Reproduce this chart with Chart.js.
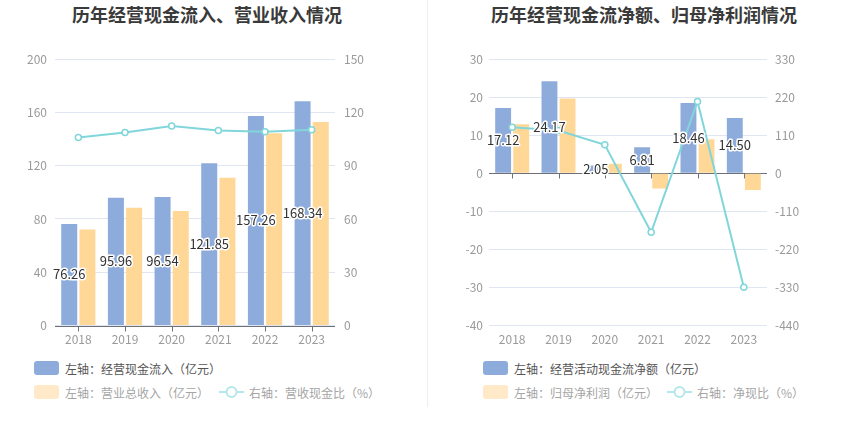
<!DOCTYPE html>
<html>
<head>
<meta charset="utf-8">
<script src="https://cdn.jsdelivr.net/npm/chart.js@4.4.0/dist/chart.umd.min.js"></script>
<style>
  body { margin: 0; background: #fff; font-family: "Noto Sans CJK SC", sans-serif; }
  .title { position: absolute; top: 4px; width: 420px; text-align: center; font-size: 18px; font-weight: bold; color: #3a3a3a; line-height: 20px; }
  .wrap { position: absolute; top: 0; width: 425px; height: 356px; }
  .divider { position: absolute; left: 427px; top: 0; width: 1px; height: 407px; background: #eee; }
  .item { position: absolute; white-space: nowrap; display: flex; align-items: center; font-size: 12px; height: 14px; }
  .sw { width: 25px; height: 14px; border-radius: 3px; margin-right: 6px; }
  .dark { color: #555; }
  .light { color: #a5a5a5; }
</style>
</head>
<body>
<div class="title" style="left:-3px">历年经营现金流入、营业收入情况</div>
<div class="title" style="left:434px">历年经营现金流净额、归母净利润情况</div>
<div class="wrap" style="left:0"><canvas id="leftChart"></canvas></div>
<div class="wrap" style="left:425px"><canvas id="rightChart"></canvas></div>
<div class="divider"></div>

<div class="item dark" style="left:34px;top:361px"><span class="sw" style="background:#8eacdb"></span>左轴：经营现金流入（亿元）</div>
<div class="item light" style="left:34px;top:385px"><span class="sw" style="background:#ffe9c8"></span>左轴：营业总收入（亿元）</div>
<div class="item light" style="left:219px;top:385px"><svg width="25" height="14" style="margin-right:5px"><line x1="0" y1="7" x2="25" y2="7" stroke="#b3e7e9" stroke-width="2"/><circle cx="12.5" cy="7" r="5" fill="#fff" stroke="#b3e7e9" stroke-width="2"/></svg>右轴：营收现金比（%）</div>

<div class="item dark" style="left:483px;top:361px"><span class="sw" style="background:#8eacdb"></span>左轴：经营活动现金流净额（亿元）</div>
<div class="item light" style="left:483px;top:385px"><span class="sw" style="background:#ffe9c8"></span>左轴：归母净利润（亿元）</div>
<div class="item light" style="left:667px;top:385px"><svg width="25" height="14" style="margin-right:5px"><line x1="0" y1="7" x2="25" y2="7" stroke="#b3e7e9" stroke-width="2"/><circle cx="12.5" cy="7" r="5" fill="#fff" stroke="#b3e7e9" stroke-width="2"/></svg>右轴：净现比（%）</div>

<script>
const years = ['2018', '2019', '2020', '2021', '2022', '2023'];

// left chart
const cashInflow = [76.26, 95.96, 96.54, 121.85, 157.26, 168.34];
const revenue = [72.0, 88.4, 86.0, 111.0, 144.3, 152.8];
const cashRevenueRatio = [105.9, 108.6, 112.3, 109.8, 109.0, 110.2];
const leftAxis1 = [0, 200, 40];
const rightAxis1 = [0, 150, 30];

// right chart
const netCashFlow = [17.12, 24.17, 2.05, 6.81, 18.46, 14.50];
const netProfit = [12.9, 19.6, 2.5, -4.0, 8.9, -4.4];
const netCashRatio = [132.7, 123.3, 82.0, -170.3, 207.4, -329.5];
const leftAxis2 = [-40, 30, 10];
const rightAxis2 = [-440, 330, 110];

const BLUE = '#8eacdb';
const ORANGE = '#ffd898';
const CYAN = '#80d6da';

Chart.defaults.font.family = '"Noto Sans CJK SC", sans-serif';
Chart.defaults.font.size = 12;
Chart.defaults.color = '#9a9a9a';

// x axis line drawn at value 0 with small ticks under each category
const zeroAxis = {
  id: 'zeroAxis',
  beforeDatasetsDraw(chart) {
    const {ctx, chartArea, scales} = chart;
    const y0 = Math.round(scales.y.getPixelForValue(0)) + 0.5;
    ctx.save();
    ctx.strokeStyle = '#6e7079';
    ctx.lineWidth = 1;
    ctx.beginPath();
    ctx.moveTo(chartArea.left, y0);
    ctx.lineTo(chartArea.right, y0);
    years.forEach((yr, i) => {
      const px = Math.round(scales.x.getPixelForTick(i)) + 0.5;
      ctx.moveTo(px, y0);
      ctx.lineTo(px, y0 + 5);
    });
    ctx.stroke();
    ctx.restore();
  }
};

// value labels in the middle of the first bar series
const barLabels = {
  id: 'barLabels',
  afterDatasetsDraw(chart) {
    const ctx = chart.ctx;
    const meta = chart.getDatasetMeta(0);
    const values = chart.data.datasets[0].data;
    ctx.save();
    ctx.font = '13px "Noto Sans CJK SC", sans-serif';
    ctx.textAlign = 'center';
    ctx.textBaseline = 'middle';
    ctx.lineJoin = 'round';
    ctx.lineWidth = 3;
    ctx.strokeStyle = '#fff';
    ctx.fillStyle = '#333';
    meta.data.forEach((bar, i) => {
      const txt = values[i].toFixed(2);
      const y = (bar.y + bar.base) / 2;
      ctx.strokeText(txt, bar.x, y);
      ctx.fillText(txt, bar.x, y);
    });
    ctx.restore();
  }
};

function makeChart(id, barA, barB, ratio, lAxis, rAxis, widths) {
  const ctx = document.getElementById(id).getContext('2d');
  return new Chart(ctx, {
    type: 'bar',
    data: {
      labels: years,
      datasets: [
        {type: 'bar', data: barA, backgroundColor: BLUE, yAxisID: 'y', order: 2,
          categoryPercentage: 0.78, barPercentage: 0.88},
        {type: 'bar', data: barB, backgroundColor: ORANGE, yAxisID: 'y', order: 2,
          categoryPercentage: 0.78, barPercentage: 0.88},
        {type: 'line', data: ratio, yAxisID: 'y1', order: 0,
          borderColor: CYAN, borderWidth: 2, tension: 0,
          pointRadius: 3, pointBackgroundColor: '#fff', pointBorderColor: CYAN, pointBorderWidth: 1.5}
      ]
    },
    options: {
      responsive: true,
      maintainAspectRatio: false,
      animation: false,
      layout: {padding: {top: 59, bottom: 2, left: 0, right: 0}},
      plugins: {legend: {display: false}, tooltip: {enabled: false}},
      scales: {
        x: {
          grid: {display: false, drawTicks: false},
          border: {display: false},
          ticks: {padding: 7, color: '#9a9a9a'}
        },
        y: {
          position: 'left',
          min: lAxis[0], max: lAxis[1],
          ticks: {stepSize: lAxis[2], padding: widths[2]},
          grid: {color: '#e0e6f1', drawTicks: false},
          border: {display: false},
          afterFit(scale) { scale.width = widths[0]; }
        },
        y1: {
          position: 'right',
          min: rAxis[0], max: rAxis[1],
          ticks: {stepSize: rAxis[2], padding: widths[3]},
          grid: {drawOnChartArea: false, drawTicks: false},
          border: {display: false},
          afterFit(scale) { scale.width = widths[1]; }
        }
      }
    },
    plugins: [zeroAxis, barLabels]
  });
}

makeChart('leftChart', cashInflow, revenue, cashRevenueRatio, leftAxis1, rightAxis1, [55, 90, 8, 9]);
makeChart('rightChart', netCashFlow, netProfit, netCashRatio, leftAxis2, rightAxis2, [64, 83, 6, 8]);
</script>
</body>
</html>
